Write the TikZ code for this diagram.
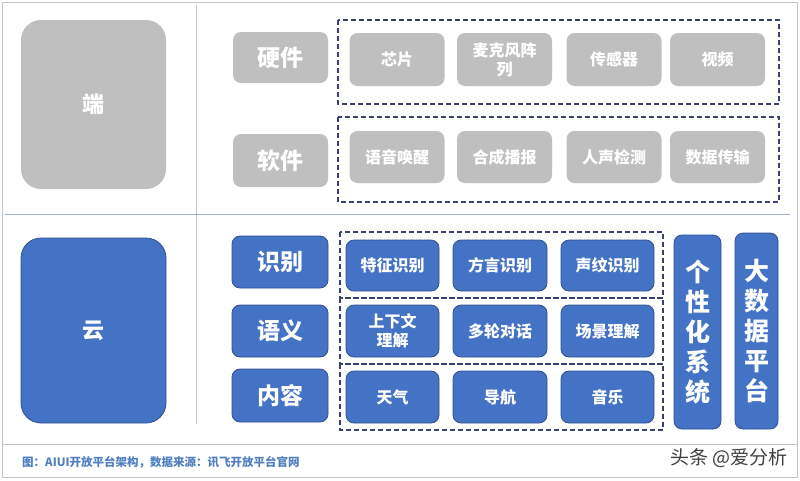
\documentclass[tikz,border=0pt]{standalone}
\usepackage{fontspec}
\newfontfamily\cjk{Noto Sans CJK SC}
\definecolor{gfill}{HTML}{BFBFBF}
\definecolor{bfill}{HTML}{4472C4}
\definecolor{bdraw}{HTML}{2F528F}
\definecolor{dashc}{HTML}{3A4070}
\definecolor{framec}{HTML}{C4C4C4}
\definecolor{sepc}{HTML}{9FB3CA}
\definecolor{capc}{HTML}{4F7FC0}
\begin{document}
\begin{tikzpicture}[x=1pt,y=-1pt,
  base/.style={rounded corners=8pt, inner sep=0pt, align=center, text=white, font=\cjk\bfseries\fontsize{16}{19}\selectfont},
  gitem/.style={base, fill=gfill},
  bitem/.style={base, fill=bfill, draw=bdraw, line width=0.8pt},
  big/.style={rounded corners=20pt, font=\cjk\bfseries\fontsize{22}{26}\selectfont},
  cat/.style={font=\cjk\bfseries\fontsize{23}{27}\selectfont},
  vert/.style={font=\cjk\bfseries\fontsize{25}{30}\selectfont},
  dbox/.style={draw=dashc, line width=1.1pt, dash pattern=on 5pt off 3pt},
]
\useasboundingbox (0,0) rectangle (800,480);
\fill[white] (0,0) rectangle (800,480);
% frame and separators
\draw[framec, line width=1pt] (2,2) rectangle (797,477);
\draw[framec, line width=1pt] (2,444) -- (797,444);
\draw[framec, line width=1pt] (196,5) -- (196,424);
\draw[sepc, line width=1pt] (5,214) -- (790,214);

% ---- 端 ----
\node[gitem, big, minimum width=145pt, minimum height=169pt] (duan) at (93.5,104.5) {端};
\node[gitem, cat, minimum width=95pt, minimum height=51pt] (hw) at (280.5,57.5) {硬件};
\node[gitem, cat, minimum width=95pt, minimum height=53pt] (sw) at (280.5,160.5) {软件};
\draw[dbox] (338,20) rectangle (779,104);
\draw[dbox] (338,117) rectangle (779,202);
\node[gitem, minimum width=95pt, minimum height=53pt] (h1) at (397,59.5) {芯片};
\node[gitem, minimum width=95pt, minimum height=53pt] (h2) at (504.5,59.5) {麦克风阵\\列};
\node[gitem, minimum width=95pt, minimum height=53pt] (h3) at (614,59.5) {传感器};
\node[gitem, minimum width=95pt, minimum height=53pt] (h4) at (717.5,59.5) {视频};
\node[gitem, minimum width=95pt, minimum height=52pt] (s1) at (397,157) {语音唤醒};
\node[gitem, minimum width=95pt, minimum height=52pt] (s2) at (504.5,157) {合成播报};
\node[gitem, minimum width=95pt, minimum height=52pt] (s3) at (614,157) {人声检测};
\node[gitem, minimum width=95pt, minimum height=52pt] (s4) at (717.5,157) {数据传输};

% ---- 云 ----
\node[bitem, big, minimum width=145pt, minimum height=185pt] (yun) at (93.5,330.5) {云};
\node[bitem, cat, minimum width=96pt, minimum height=52pt] (shibie) at (280,262) {识别};
\node[bitem, cat, minimum width=96pt, minimum height=52pt] (yuyi) at (280,331) {语义};
\node[bitem, cat, minimum width=96pt, minimum height=53pt] (neirong) at (280,395.5) {内容};
\draw[dbox] (340,232) rectangle (663,298);
\draw[dbox] (340,298) rectangle (663,364);
\draw[dbox] (340,364) rectangle (663,430);
\node[bitem, minimum width=93pt, minimum height=51pt] (r1) at (392.5,265.5) {特征识别};
\node[bitem, minimum width=94pt, minimum height=51pt] (r2) at (500,265.5) {方言识别};
\node[bitem, minimum width=93pt, minimum height=51pt] (r3) at (607.5,265.5) {声纹识别};
\node[bitem, minimum width=93pt, minimum height=52pt] (y1) at (392.5,331) {上下文\\理解};
\node[bitem, minimum width=94pt, minimum height=52pt] (y2) at (500,331) {多轮对话};
\node[bitem, minimum width=93pt, minimum height=52pt] (y3) at (607.5,331) {场景理解};
\node[bitem, minimum width=93pt, minimum height=52pt] (c1) at (392.5,397) {天气};
\node[bitem, minimum width=94pt, minimum height=52pt] (c2) at (500,397) {导航};
\node[bitem, minimum width=93pt, minimum height=52pt] (c3) at (607.5,397) {音乐};
\node[bitem, vert, minimum width=47pt, minimum height=194pt] (gx) at (697.5,332) {个\\性\\化\\系\\统};
\node[bitem, vert, minimum width=43pt, minimum height=196pt] (dsj) at (756.5,331) {大\\数\\据\\平\\台};

% caption and watermark
\node[anchor=west, inner sep=0pt, text=capc, font=\cjk\bfseries\fontsize{11.5}{13}\selectfont] (cap) at (22,462) {图：AIUI开放平台架构，数据来源：讯飞开放平台官网};
\node[anchor=east, inner sep=0pt, text=black!75, font=\cjk\fontsize{19}{21}\selectfont] (wm) at (788,458) {头条 @爱分析};
\end{tikzpicture}
\end{document}
